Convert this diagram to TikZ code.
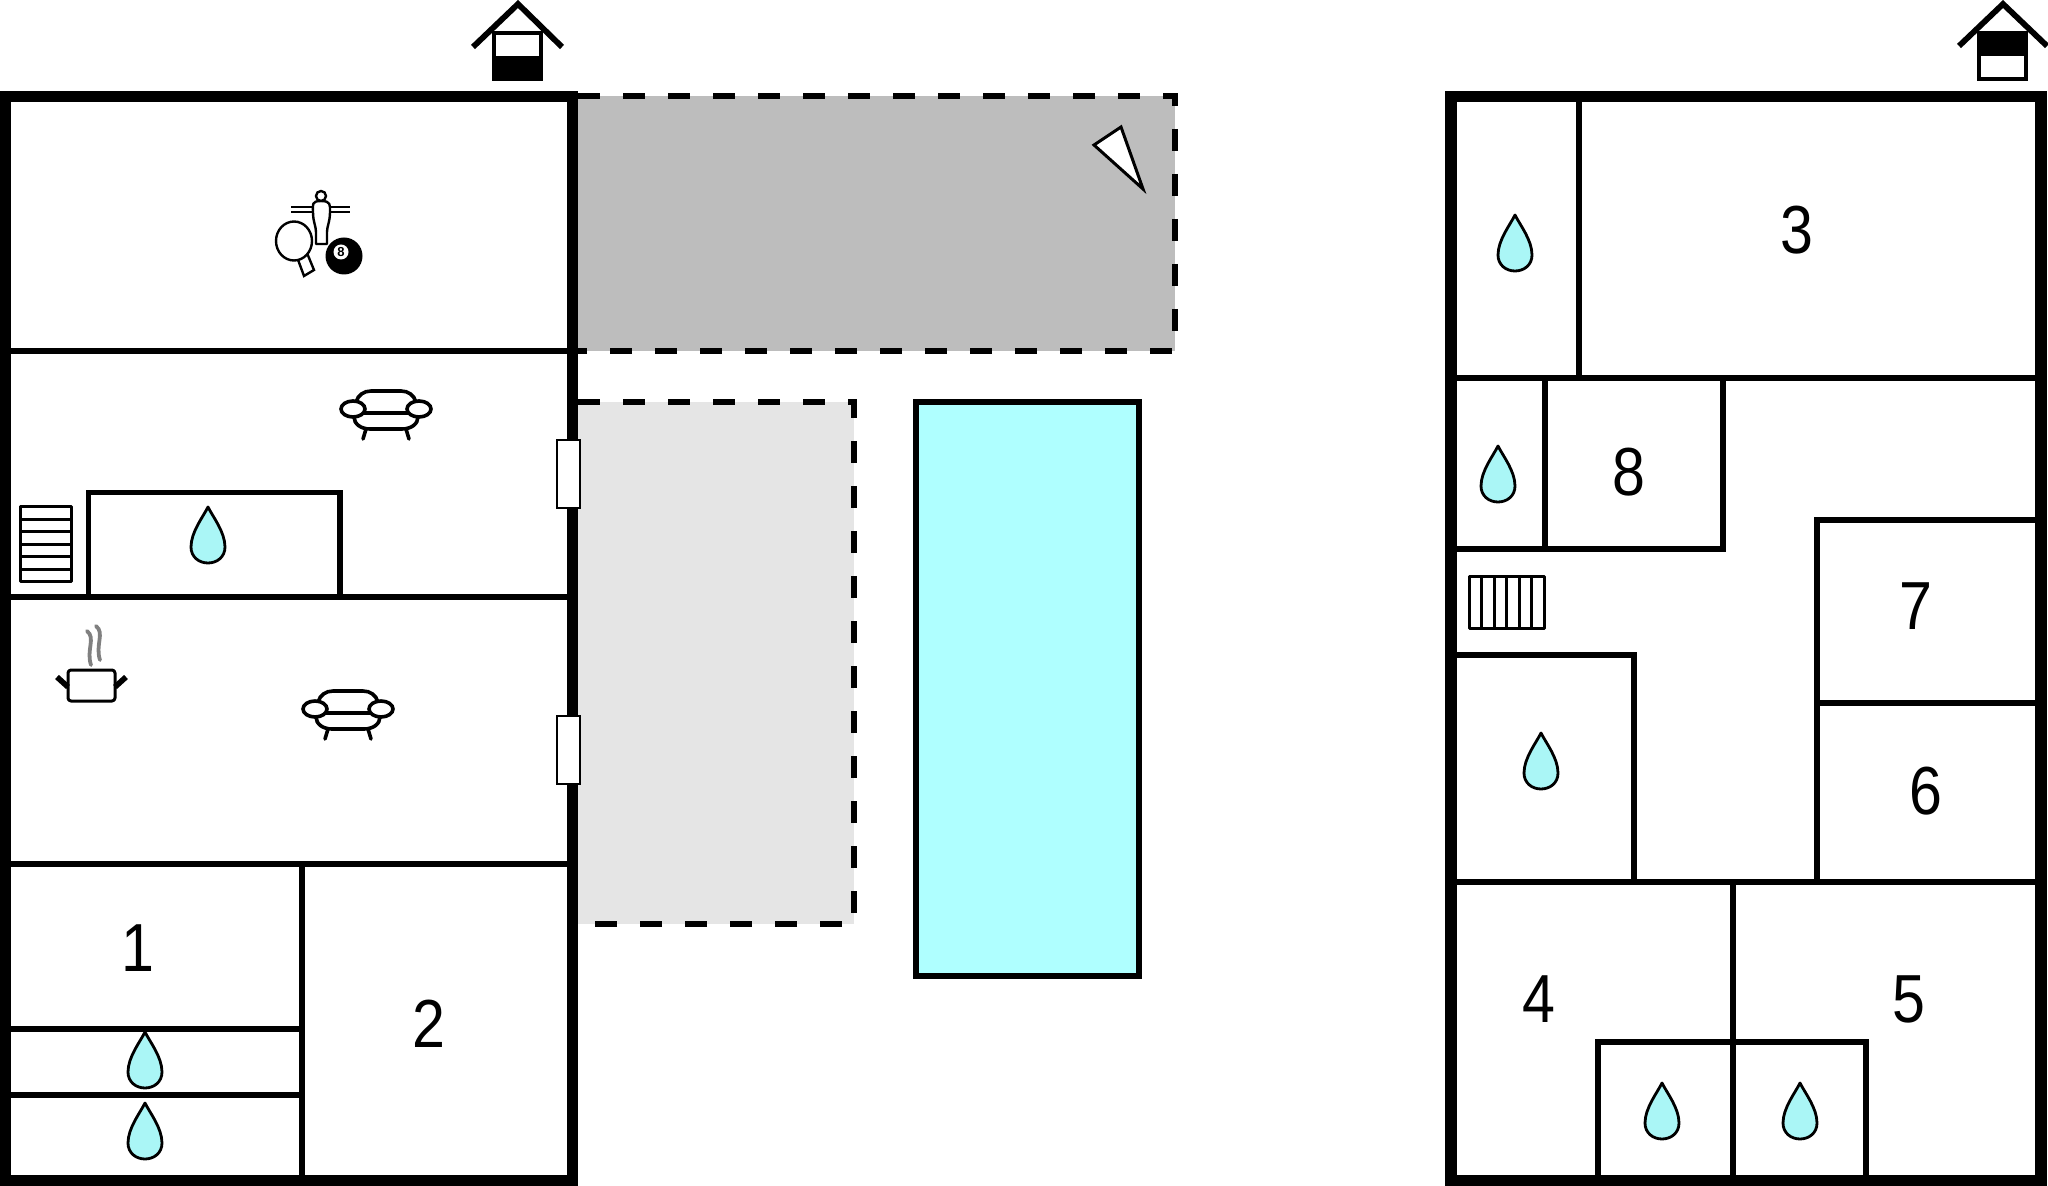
\documentclass[tikz,border=0pt]{standalone}
\usepackage{fontspec}
\setmainfont{Liberation Sans}
\newfontfamily\numfont[FakeStretch=0.87]{Liberation Sans}
\definecolor{terrace}{HTML}{BDBDBD}
\definecolor{patio}{HTML}{E5E5E5}
\definecolor{pool}{HTML}{AFFFFF}
\definecolor{dropc}{HTML}{AAF6F6}
\tikzset{
  wall/.style={line width=5.9pt,line cap=rect,line join=miter},
  inner/.style={line width=2.8pt,line cap=rect,line join=miter},
  dashline/.style={line width=3pt,dash pattern=on 11.2pt off 11.3pt},
  thin icon/.style={line width=1.5pt,line join=round},
  num/.style={font=\numfont\fontsize{34}{34}\selectfont,inner sep=0pt},
  drop/.pic={\draw[line width=1.4pt,fill=dropc,line join=round] (0,-28) .. controls (5,-18) and (17,-3) .. (17,12) .. controls (17,22) and (9,28) .. (0,28) .. controls (-9,28) and (-17,22) .. (-17,12) .. controls (-17,-3) and (-5,-18) .. (0,-28) -- cycle;},
  sofa/.pic={
    \draw[line width=1.8pt,line cap=round] (-30,-11) .. controls (-28,-18) and (-22,-22) .. (-15,-22) -- (15,-22) .. controls (22,-22) and (28,-18) .. (30,-11);
    \draw[line width=1.8pt] (-22,0) -- (22,0);
    \draw[line width=1.8pt,line cap=round] (-32,4) .. controls (-32,11) and (-25,16) .. (-16,16) -- (16,16) .. controls (25,16) and (32,11) .. (32,4);
    \draw[line width=1.8pt,line cap=round] (-20,16) -- (-23,26) (20,16) -- (23,26);
    \draw[line width=1.8pt,fill=white] (-33,-4) ellipse [x radius=12,y radius=8];
    \draw[line width=1.8pt,fill=white] (33,-4) ellipse [x radius=12,y radius=8];
  }
}
\begin{document}
\begin{tikzpicture}[x=0.5pt,y=-0.5pt]
\useasboundingbox (0,0) rectangle (2048,1186);
\clip (0,0) rectangle (2048,1186);
% outdoor areas
\fill[terrace] (578,96) rectangle (1175,351);
\fill[patio] (578,402) rectangle (854,924);
\draw[dashline] (578,96) -- (1175,96) -- (1175,351) -- (578,351);
\draw[dashline] (578,402) -- (854,402) -- (854,924) -- (578,924);
\draw[line width=2.8pt,fill=pool] (916,402) rectangle (1139,976);
\draw[line width=1.5pt,fill=white,line join=miter] (1121,127) -- (1094,145) -- (1143,189) -- cycle;
% left building inner
\draw[inner] (8,351) -- (570,351);
\draw[inner] (8,597) -- (570,597);
\draw[inner] (8,864) -- (570,864);
\draw[inner] (302,864) -- (302,1178);
\draw[inner] (8,1029) -- (302,1029);
\draw[inner] (8,1095) -- (302,1095);
\draw[inner] (88.5,597) -- (88.5,492.5) -- (340,492.5) -- (340,597);
% left stairs
\draw[thin icon] (20,507) rectangle (71,582);
\foreach \yy in {519.5,532,544.5,557,569.5} \draw[thin icon] (20,\yy) -- (71,\yy);
% left building walls
\draw[wall] (5.5,96.5) rectangle (572.5,1180.5);
% doors
\draw[line width=1.2pt,fill=white] (557,440) rectangle (580,508);
\draw[line width=1.2pt,fill=white] (557,716) rectangle (580,784);
% right building inner
\draw[inner] (1451,378) -- (2041,378);
\draw[inner] (1579,96) -- (1579,378);
\draw[inner] (1545,378) -- (1545,549);
\draw[inner] (1723,378) -- (1723,549) -- (1451,549);
\draw[inner] (2041,520) -- (1817,520) -- (1817,882);
\draw[inner] (1817,703) -- (2041,703);
\draw[inner] (1451,882) -- (2041,882);
\draw[inner] (1451,655) -- (1634,655) -- (1634,882);
\draw[inner] (1733,882) -- (1733,1180);
\draw[inner] (1598,1180) -- (1598,1042) -- (1866,1042) -- (1866,1180);
% right stairs
\draw[thin icon] (1469,577) rectangle (1544,628);
\foreach \xx in {1481.5,1494,1506.5,1519,1531.5} \draw[thin icon] (\xx,577) -- (\xx,628);
\draw[wall] (1451,96.5) rectangle (2041,1180.5);
% house markers
\draw[line width=2.2pt,fill=white] (494,33) rectangle (541,79);
\fill (492,56) rectangle (543,81);
\draw[line width=2.9pt,line join=miter,line cap=butt] (473,47) -- (518,4) -- (562,47);
\draw[line width=2.2pt,fill=white] (1979,33) rectangle (2026,79);
\fill (1977,31) rectangle (2028,56);
\draw[line width=2.9pt,line join=miter,line cap=butt] (1959,46) -- (2003,4) -- (2047,46);
% drops
\foreach \px/\py in {208/535,145/1060,145/1131,1515/243,1498/474,1541/761,1662/1111,1800/1111}
  \pic at (\px,\py) {drop};
% sofas
\pic at (386,413) {sofa};
\pic at (348,713) {sofa};
% pot
\draw[line width=1.5pt,line join=round,fill=white,rounded corners=1.5pt] (68,670) -- (115,670) -- (115,701) -- (68,701) -- cycle;
\draw[line width=2.8pt] (57,677) -- (68,687) (126,677) -- (115,687);
\draw[line width=1.9pt,gray,line cap=round] (87,631) .. controls (96,638) and (86,650) .. (91,665);
\draw[line width=1.9pt,gray,line cap=round] (96,626) .. controls (105,633) and (95,645) .. (100,660);
% games
\draw[line width=1.1pt] (291,207) -- (350,207) (291,212) -- (350,212);
\draw[line width=1.2pt,fill=white,line join=round] (321,201) .. controls (311,201) and (313,205) .. (313,212) .. controls (313,222) and (316,226) .. (316,232) -- (316,244) -- (327,244) -- (327,232) .. controls (327,226) and (330,222) .. (330,212) .. controls (330,205) and (331,201) .. (321,201) -- cycle;
\draw[line width=1.2pt,fill=white] (321,196) circle (5);
\draw[line width=1.2pt,fill=white] (297,257) -- (304,276) -- (314,270) -- (307,253) -- cycle;
\draw[line width=1.2pt,fill=white] (294,241) ellipse [x radius=18,y radius=19.5];
\fill (344,256) circle (18.5);
\fill[white] (341,252) circle (7.5);
\node[inner sep=0pt,font=\fontsize{6.5}{6.5}\selectfont\bfseries] (eight) at (341,252) {8};
% labels
\node[num] (n1) at (138,948) {1};
\node[num] (n2) at (429,1024) {2};
\node[num] (n3) at (1797,230) {3};
\node[num] (n8) at (1629,472) {8};
\node[num] (n7) at (1916,606) {7};
\node[num] (n6) at (1926,791) {6};
\node[num] (n4) at (1539,999) {4};
\node[num] (n5) at (1909,999) {5};
\end{tikzpicture}
\end{document}
